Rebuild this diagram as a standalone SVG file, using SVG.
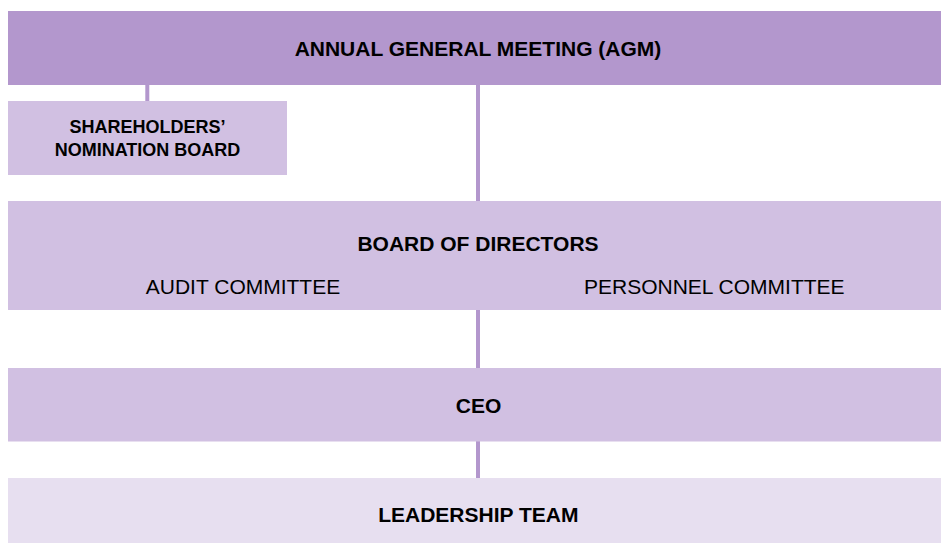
<svg xmlns="http://www.w3.org/2000/svg" width="941" height="543" viewBox="0 0 941 543">
<style>
.t{font-family:"Liberation Sans",Arial,sans-serif;font-size:21px;fill:#000;text-anchor:middle}
.b{font-weight:bold}
.s{font-size:18px}
.dark{fill:#B397CD}
.mid{fill:#D1C0E2}
.light{fill:#E7DFF0}
.conn{fill:#B397CD}
</style>
<rect width="941" height="543" fill="#FFFFFF"/>
<g id="connectors">
<rect class="conn" x="145.3" y="84" width="4" height="18"/>
<rect class="conn" x="476" y="84" width="4" height="118"/>
<rect class="conn" x="476" y="309" width="4" height="60"/>
<rect class="conn" x="476" y="440" width="4" height="39"/>
</g>
<g id="agm">
<rect class="dark" x="8" y="11" width="940" height="74"/>
<text class="t b" x="478" y="56">ANNUAL GENERAL MEETING (AGM)</text>
</g>
<g id="nomination-board">
<rect class="mid" x="8" y="101" width="279" height="74"/>
<text class="t b s" x="147.5" y="133.3">SHAREHOLDERS’</text>
<text class="t b s" x="147.5" y="156">NOMINATION BOARD</text>
</g>
<g id="board">
<rect class="mid" x="8" y="201" width="940" height="109"/>
<text class="t b" x="478" y="251">BOARD OF DIRECTORS</text>
<text class="t" x="243" y="294">AUDIT COMMITTEE</text>
<text class="t" x="714.3" y="294">PERSONNEL COMMITTEE</text>
</g>
<g id="ceo">
<rect class="mid" x="8" y="368" width="940" height="73.5"/>
<text class="t b" x="478.5" y="412.5">CEO</text>
</g>
<g id="leadership">
<rect class="light" x="8" y="478" width="940" height="65"/>
<text class="t b" x="478.3" y="522">LEADERSHIP TEAM</text>
</g>
</svg>
